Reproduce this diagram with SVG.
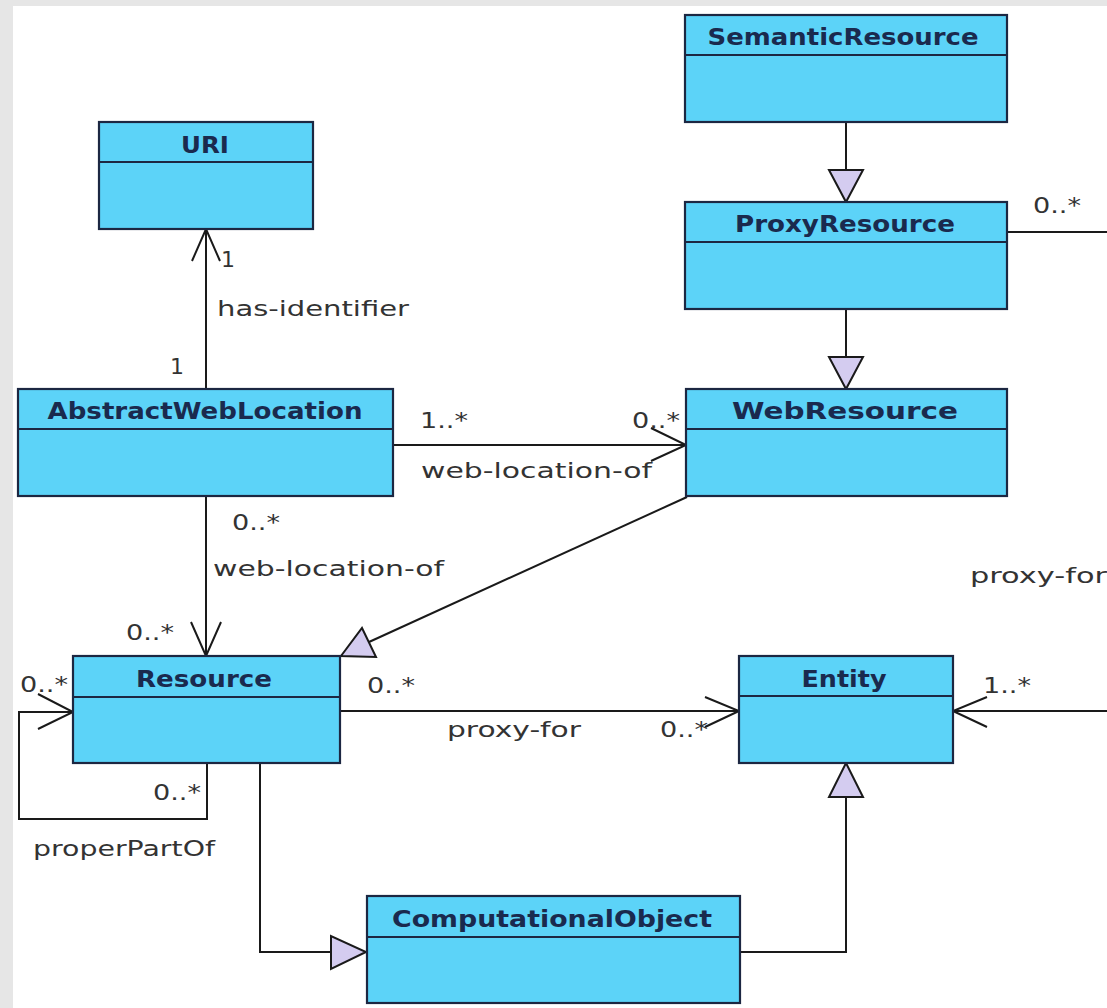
<svg xmlns="http://www.w3.org/2000/svg" width="1107" height="1008" viewBox="0 0 1107 1008">
<style>
.box{fill:#5cd3f8;stroke:#1c2742;stroke-width:2.2}
.div{stroke:#1c2742;stroke-width:2.2}
.hd{font-family:"DejaVu Sans",sans-serif;font-weight:bold;font-size:23px;fill:#1a2a4e;text-anchor:middle}
.lb{font-family:"DejaVu Sans",sans-serif;font-size:22px;fill:#333}
.ln{fill:none;stroke:#1a1a1a;stroke-width:2}
.tri{fill:#d4ccf0;stroke:#1a1a1a;stroke-width:2;stroke-linejoin:miter}
.oa{fill:none;stroke:#1a1a1a;stroke-width:2}
</style>
<rect x="0" y="0" width="1107" height="1008" fill="#e6e6e6"/>
<rect x="13" y="6" width="1094" height="1002" fill="#ffffff"/>

<g id="connectors">
  <line class="ln" x1="206" y1="229" x2="206" y2="389"/>
  <polyline class="oa" points="192,261 206,229 220,261"/>
  <line class="ln" x1="846" y1="122" x2="846" y2="170"/>
  <polygon class="tri" points="829,170 863,170 846,202"/>
  <line class="ln" x1="846" y1="309" x2="846" y2="357"/>
  <polygon class="tri" points="829,357 863,357 846,389"/>
  <polyline class="ln" points="1007,232 1114,232 1114,711 953,711"/>
  <polyline class="oa" points="987,697 953,711 987,727"/>
  <line class="ln" x1="393" y1="445" x2="686" y2="445"/>
  <polyline class="oa" points="651,428 686,445 651,461"/>
  <line class="ln" x1="206" y1="496" x2="206" y2="656"/>
  <polyline class="oa" points="191,622 206,656 221,622"/>
  <line class="ln" x1="687" y1="497" x2="369" y2="642"/>
  <polygon class="tri" points="362,628 376,657 341,656"/>
  <line class="ln" x1="340" y1="711" x2="739" y2="711"/>
  <polyline class="oa" points="705,697 739,711 705,727"/>
  <polyline class="ln" points="207,763 207,819 19,819 19,712 73,712"/>
  <polyline class="oa" points="38,694 73,712 38,729"/>
  <polyline class="ln" points="260,763 260,952 331,952"/>
  <polygon class="tri" points="331,936 331,969 366,952"/>
  <polyline class="ln" points="740,952 846,952 846,797"/>
  <polygon class="tri" points="829,797 863,797 846,763"/>
</g>

<g id="labels">
  <text class="lb" x="221" y="267">1</text>
  <text class="lb" x="217" y="316" textLength="192" lengthAdjust="spacingAndGlyphs">has-identifier</text>
  <text class="lb" x="170" y="374">1</text>
  <text class="lb" x="420" y="428" textLength="48" lengthAdjust="spacingAndGlyphs">1..*</text>
  <text class="lb" x="632" y="428" textLength="48" lengthAdjust="spacingAndGlyphs">0..*</text>
  <text class="lb" x="421" y="478" textLength="231" lengthAdjust="spacingAndGlyphs">web-location-of</text>
  <text class="lb" x="232" y="530" textLength="48" lengthAdjust="spacingAndGlyphs">0..*</text>
  <text class="lb" x="213" y="576" textLength="231" lengthAdjust="spacingAndGlyphs">web-location-of</text>
  <text class="lb" x="126" y="640" textLength="48" lengthAdjust="spacingAndGlyphs">0..*</text>
  <text class="lb" x="20" y="692" textLength="48" lengthAdjust="spacingAndGlyphs">0..*</text>
  <text class="lb" x="153" y="800" textLength="48" lengthAdjust="spacingAndGlyphs">0..*</text>
  <text class="lb" x="33" y="856" textLength="182" lengthAdjust="spacingAndGlyphs">properPartOf</text>
  <text class="lb" x="367" y="693" textLength="48" lengthAdjust="spacingAndGlyphs">0..*</text>
  <text class="lb" x="447" y="737" textLength="134" lengthAdjust="spacingAndGlyphs">proxy-for</text>
  <text class="lb" x="660" y="737" textLength="48" lengthAdjust="spacingAndGlyphs">0..*</text>
  <text class="lb" x="983" y="693" textLength="48" lengthAdjust="spacingAndGlyphs">1..*</text>
  <text class="lb" x="970" y="583" textLength="137" lengthAdjust="spacingAndGlyphs">proxy-for</text>
  <text class="lb" x="1033" y="213" textLength="48" lengthAdjust="spacingAndGlyphs">0..*</text>
</g>

<g id="URI">
  <rect class="box" x="99" y="122" width="214" height="107"/>
  <line class="div" x1="99" y1="162" x2="313" y2="162"/>
  <text class="hd" x="205" y="153" textLength="48" lengthAdjust="spacingAndGlyphs">URI</text>
</g>
<g id="SemanticResource">
  <rect class="box" x="685" y="15" width="322" height="107"/>
  <line class="div" x1="685" y1="55" x2="1007" y2="55"/>
  <text class="hd" x="843" y="45" textLength="271" lengthAdjust="spacingAndGlyphs">SemanticResource</text>
</g>
<g id="ProxyResource">
  <rect class="box" x="685" y="202" width="322" height="107"/>
  <line class="div" x1="685" y1="242" x2="1007" y2="242"/>
  <text class="hd" x="845" y="232" textLength="220" lengthAdjust="spacingAndGlyphs">ProxyResource</text>
</g>
<g id="WebResource">
  <rect class="box" x="686" y="389" width="321" height="107"/>
  <line class="div" x1="686" y1="429" x2="1007" y2="429"/>
  <text class="hd" x="845" y="419" textLength="226" lengthAdjust="spacingAndGlyphs">WebResource</text>
</g>
<g id="AbstractWebLocation">
  <rect class="box" x="18" y="389" width="375" height="107"/>
  <line class="div" x1="18" y1="429" x2="393" y2="429"/>
  <text class="hd" x="205" y="419" textLength="315" lengthAdjust="spacingAndGlyphs">AbstractWebLocation</text>
</g>
<g id="Resource">
  <rect class="box" x="73" y="656" width="267" height="107"/>
  <line class="div" x1="73" y1="697" x2="340" y2="697"/>
  <text class="hd" x="204" y="687" textLength="136" lengthAdjust="spacingAndGlyphs">Resource</text>
</g>
<g id="Entity">
  <rect class="box" x="739" y="656" width="214" height="107"/>
  <line class="div" x1="739" y1="696" x2="953" y2="696"/>
  <text class="hd" x="844" y="687" textLength="85" lengthAdjust="spacingAndGlyphs">Entity</text>
</g>
<g id="ComputationalObject">
  <rect class="box" x="367" y="896" width="373" height="107"/>
  <line class="div" x1="367" y1="937" x2="740" y2="937"/>
  <text class="hd" x="552" y="927" textLength="320" lengthAdjust="spacingAndGlyphs">ComputationalObject</text>
</g>
</svg>
